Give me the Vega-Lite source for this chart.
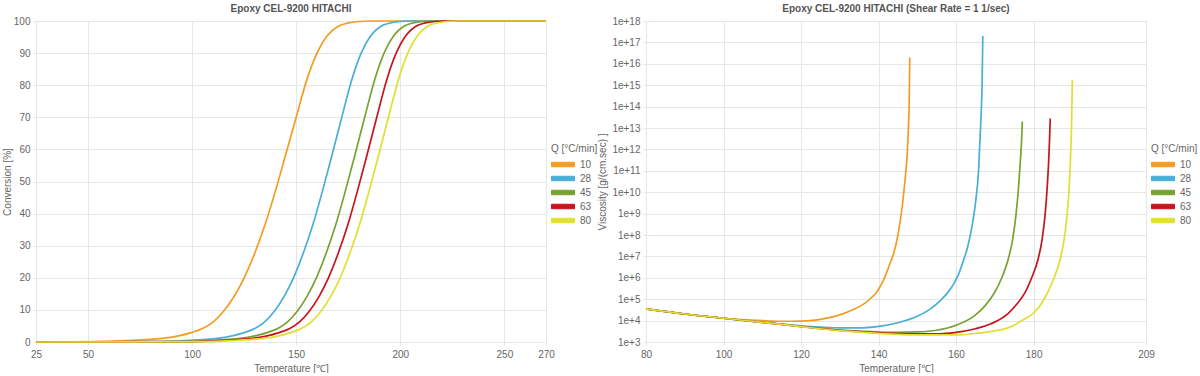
{
  "$schema": "https://vega.github.io/schema/vega-lite/v6.json",
  "padding": {"left": 2, "top": 4, "right": 0, "bottom": 0},
  "autosize": {"type": "pad"},
  "background": "white",
  "bounds": "flush",
  "spacing": 100,
  "resolve": {"scale": {"color": "independent"}},
  "config": {
    "font": "Liberation Sans",
    "view": {"stroke": null},
    "title": {"fontSize": 10, "fontWeight": "bold", "color": "#555555", "offset": 2, "anchor": "middle"},
    "axis": {
      "labelColor": "#666666", "labelFontSize": 10, "titleColor": "#666666", "titleFontSize": 10,
      "titleFontWeight": "normal", "gridColor": "#e6e6e6", "domain": false, "tickColor": "#e6e6e6",
      "tickSize": 3, "labelPadding": 3, "labelFlush": false
    },
    "legend": {"labelColor": "#666666", "labelFontSize": 10, "titleColor": "#666666", "titleFontSize": 10, "titleFontWeight": "normal"}
  },
  "datasets": {
    "conv": [
      {"Q": "10", "T": 25, "C": 0}, {"Q": "10", "T": 51.5, "C": 0.1}, {"Q": "10", "T": 71.5, "C": 0.5}, {"Q": "10", "T": 81.5, "C": 0.9}, {"Q": "10", "T": 91.5, "C": 1.7}, {"Q": "10", "T": 100, "C": 3.0}, {"Q": "10", "T": 105, "C": 4.2}, {"Q": "10", "T": 110, "C": 6.2}, {"Q": "10", "T": 115, "C": 9.5}, {"Q": "10", "T": 120, "C": 14}, {"Q": "10", "T": 125, "C": 20}, {"Q": "10", "T": 130, "C": 27.5}, {"Q": "10", "T": 135, "C": 36.5}, {"Q": "10", "T": 140, "C": 47}, {"Q": "10", "T": 145, "C": 58.5}, {"Q": "10", "T": 150, "C": 70}, {"Q": "10", "T": 155, "C": 81.5}, {"Q": "10", "T": 160, "C": 90}, {"Q": "10", "T": 165, "C": 95.5}, {"Q": "10", "T": 170, "C": 98.3}, {"Q": "10", "T": 175, "C": 99.4}, {"Q": "10", "T": 180, "C": 99.85}, {"Q": "10", "T": 185, "C": 100}, {"Q": "10", "T": 270, "C": 100},
      {"Q": "28", "T": 25, "C": 0}, {"Q": "28", "T": 80.3, "C": 0.1}, {"Q": "28", "T": 98.9, "C": 0.5}, {"Q": "28", "T": 108.2, "C": 0.9}, {"Q": "28", "T": 117.5, "C": 1.7}, {"Q": "28", "T": 125.4, "C": 3.0}, {"Q": "28", "T": 130.1, "C": 4.2}, {"Q": "28", "T": 134.7, "C": 6.2}, {"Q": "28", "T": 139.4, "C": 9.5}, {"Q": "28", "T": 144.0, "C": 14}, {"Q": "28", "T": 148.7, "C": 20}, {"Q": "28", "T": 153.3, "C": 27.5}, {"Q": "28", "T": 158.0, "C": 36.5}, {"Q": "28", "T": 162.6, "C": 47}, {"Q": "28", "T": 167.3, "C": 58.5}, {"Q": "28", "T": 171.9, "C": 70}, {"Q": "28", "T": 176.6, "C": 81.5}, {"Q": "28", "T": 181.2, "C": 90}, {"Q": "28", "T": 185.9, "C": 95.5}, {"Q": "28", "T": 190.5, "C": 98.3}, {"Q": "28", "T": 195.2, "C": 99.4}, {"Q": "28", "T": 199.8, "C": 99.85}, {"Q": "28", "T": 204.5, "C": 100}, {"Q": "28", "T": 270, "C": 100},
      {"Q": "45", "T": 25, "C": 0}, {"Q": "45", "T": 91.3, "C": 0.1}, {"Q": "45", "T": 109.9, "C": 0.5}, {"Q": "45", "T": 119.2, "C": 0.9}, {"Q": "45", "T": 128.5, "C": 1.7}, {"Q": "45", "T": 136.4, "C": 3.0}, {"Q": "45", "T": 141.1, "C": 4.2}, {"Q": "45", "T": 145.7, "C": 6.2}, {"Q": "45", "T": 150.4, "C": 9.5}, {"Q": "45", "T": 155.0, "C": 14}, {"Q": "45", "T": 159.7, "C": 20}, {"Q": "45", "T": 164.3, "C": 27.5}, {"Q": "45", "T": 169.0, "C": 36.5}, {"Q": "45", "T": 173.6, "C": 47}, {"Q": "45", "T": 178.3, "C": 58.5}, {"Q": "45", "T": 182.9, "C": 70}, {"Q": "45", "T": 187.6, "C": 81.5}, {"Q": "45", "T": 192.2, "C": 90}, {"Q": "45", "T": 196.9, "C": 95.5}, {"Q": "45", "T": 201.5, "C": 98.3}, {"Q": "45", "T": 206.2, "C": 99.4}, {"Q": "45", "T": 210.8, "C": 99.85}, {"Q": "45", "T": 215.5, "C": 100}, {"Q": "45", "T": 270, "C": 100},
      {"Q": "63", "T": 25, "C": 0}, {"Q": "63", "T": 97.1, "C": 0.1}, {"Q": "63", "T": 115.7, "C": 0.5}, {"Q": "63", "T": 125.0, "C": 0.9}, {"Q": "63", "T": 134.3, "C": 1.7}, {"Q": "63", "T": 142.2, "C": 3.0}, {"Q": "63", "T": 146.9, "C": 4.2}, {"Q": "63", "T": 151.5, "C": 6.2}, {"Q": "63", "T": 156.2, "C": 9.5}, {"Q": "63", "T": 160.8, "C": 14}, {"Q": "63", "T": 165.5, "C": 20}, {"Q": "63", "T": 170.1, "C": 27.5}, {"Q": "63", "T": 174.8, "C": 36.5}, {"Q": "63", "T": 179.4, "C": 47}, {"Q": "63", "T": 184.1, "C": 58.5}, {"Q": "63", "T": 188.7, "C": 70}, {"Q": "63", "T": 193.4, "C": 81.5}, {"Q": "63", "T": 198.0, "C": 90}, {"Q": "63", "T": 202.7, "C": 95.5}, {"Q": "63", "T": 207.3, "C": 98.3}, {"Q": "63", "T": 212.0, "C": 99.4}, {"Q": "63", "T": 216.6, "C": 99.85}, {"Q": "63", "T": 221.3, "C": 100}, {"Q": "63", "T": 270, "C": 100},
      {"Q": "80", "T": 25, "C": 0}, {"Q": "80", "T": 102.7, "C": 0.1}, {"Q": "80", "T": 121.3, "C": 0.5}, {"Q": "80", "T": 130.6, "C": 0.9}, {"Q": "80", "T": 139.9, "C": 1.7}, {"Q": "80", "T": 147.8, "C": 3.0}, {"Q": "80", "T": 152.5, "C": 4.2}, {"Q": "80", "T": 157.1, "C": 6.2}, {"Q": "80", "T": 161.8, "C": 9.5}, {"Q": "80", "T": 166.4, "C": 14}, {"Q": "80", "T": 171.1, "C": 20}, {"Q": "80", "T": 175.7, "C": 27.5}, {"Q": "80", "T": 180.4, "C": 36.5}, {"Q": "80", "T": 185.0, "C": 47}, {"Q": "80", "T": 189.7, "C": 58.5}, {"Q": "80", "T": 194.3, "C": 70}, {"Q": "80", "T": 199.0, "C": 81.5}, {"Q": "80", "T": 203.6, "C": 90}, {"Q": "80", "T": 208.3, "C": 95.5}, {"Q": "80", "T": 212.9, "C": 98.3}, {"Q": "80", "T": 217.6, "C": 99.4}, {"Q": "80", "T": 222.2, "C": 99.85}, {"Q": "80", "T": 226.9, "C": 100}, {"Q": "80", "T": 270, "C": 100}
    ],
    "visc": [
      {"Q": "10", "T": 80, "V": 35200}, {"Q": "10", "T": 90, "V": 20400}, {"Q": "10", "T": 100, "V": 12900}, {"Q": "10", "T": 110, "V": 10000}, {"Q": "10", "T": 115, "V": 9330}, {"Q": "10", "T": 120, "V": 9550}, {"Q": "10", "T": 125, "V": 11480}, {"Q": "10", "T": 130, "V": 18620}, {"Q": "10", "T": 133.5, "V": 33000}, {"Q": "10", "T": 136.5, "V": 66000}, {"Q": "10", "T": 138.2, "V": 120000}, {"Q": "10", "T": 139.4, "V": 200000}, {"Q": "10", "T": 140.4, "V": 380000}, {"Q": "10", "T": 141.3, "V": 794000}, {"Q": "10", "T": 142.2, "V": 2.0e6}, {"Q": "10", "T": 143.1, "V": 5.6e6}, {"Q": "10", "T": 143.9, "V": 1.38e7}, {"Q": "10", "T": 145, "V": 1e8}, {"Q": "10", "T": 146.1, "V": 2.09e9}, {"Q": "10", "T": 146.8, "V": 3.16e10}, {"Q": "10", "T": 147.4, "V": 6.61e11}, {"Q": "10", "T": 147.7, "V": 1e13}, {"Q": "10", "T": 147.9, "V": 1.41e14}, {"Q": "10", "T": 148.05, "V": 1.95e16},
      {"Q": "28", "T": 80, "V": 35200}, {"Q": "28", "T": 90, "V": 20400}, {"Q": "28", "T": 100, "V": 12900}, {"Q": "28", "T": 110, "V": 8320}, {"Q": "28", "T": 120, "V": 5750}, {"Q": "28", "T": 125, "V": 5010}, {"Q": "28", "T": 130, "V": 4570}, {"Q": "28", "T": 135, "V": 4570}, {"Q": "28", "T": 140, "V": 5370}, {"Q": "28", "T": 145, "V": 7940}, {"Q": "28", "T": 150, "V": 15850}, {"Q": "28", "T": 153.4, "V": 35480}, {"Q": "28", "T": 156, "V": 89130}, {"Q": "28", "T": 158, "V": 220000}, {"Q": "28", "T": 159.5, "V": 562300}, {"Q": "28", "T": 160.6, "V": 1.4e6}, {"Q": "28", "T": 161.5, "V": 3.98e6}, {"Q": "28", "T": 163, "V": 2.82e7}, {"Q": "28", "T": 164.2, "V": 3.16e8}, {"Q": "28", "T": 165.1, "V": 4.37e9}, {"Q": "28", "T": 165.8, "V": 1e11}, {"Q": "28", "T": 166.2, "V": 3.98e12}, {"Q": "28", "T": 166.5, "V": 6.31e13}, {"Q": "28", "T": 166.7, "V": 8.51e14}, {"Q": "28", "T": 166.9, "V": 2.0e17},
      {"Q": "45", "T": 80, "V": 35200}, {"Q": "45", "T": 90, "V": 20400}, {"Q": "45", "T": 100, "V": 12900}, {"Q": "45", "T": 110, "V": 8320}, {"Q": "45", "T": 120, "V": 5370}, {"Q": "45", "T": 130, "V": 3630}, {"Q": "45", "T": 140, "V": 2950}, {"Q": "45", "T": 145, "V": 2820}, {"Q": "45", "T": 150, "V": 2950}, {"Q": "45", "T": 155, "V": 3550}, {"Q": "45", "T": 160, "V": 6030}, {"Q": "45", "T": 164.7, "V": 16600}, {"Q": "45", "T": 167.5, "V": 50120}, {"Q": "45", "T": 169.9, "V": 199500}, {"Q": "45", "T": 171.8, "V": 1e6}, {"Q": "45", "T": 173.4, "V": 6.76e6}, {"Q": "45", "T": 174.6, "V": 6.31e7}, {"Q": "45", "T": 175.5, "V": 1.02e9}, {"Q": "45", "T": 176.1, "V": 1.58e10}, {"Q": "45", "T": 176.6, "V": 3.16e11}, {"Q": "45", "T": 176.9, "V": 2.51e12}, {"Q": "45", "T": 177.1, "V": 2.0e13},
      {"Q": "63", "T": 80, "V": 35200}, {"Q": "63", "T": 90, "V": 20400}, {"Q": "63", "T": 100, "V": 12900}, {"Q": "63", "T": 110, "V": 8320}, {"Q": "63", "T": 120, "V": 5250}, {"Q": "63", "T": 130, "V": 3470}, {"Q": "63", "T": 140, "V": 2690}, {"Q": "63", "T": 150, "V": 2400}, {"Q": "63", "T": 155, "V": 2400}, {"Q": "63", "T": 160, "V": 2820}, {"Q": "63", "T": 165, "V": 4170}, {"Q": "63", "T": 169, "V": 7080}, {"Q": "63", "T": 173.4, "V": 21380}, {"Q": "63", "T": 175.8, "V": 63100}, {"Q": "63", "T": 177.7, "V": 190500}, {"Q": "63", "T": 179.5, "V": 1e6}, {"Q": "63", "T": 181.1, "V": 6.76e6}, {"Q": "63", "T": 182.2, "V": 6.31e7}, {"Q": "63", "T": 183, "V": 1.02e9}, {"Q": "63", "T": 183.5, "V": 1.58e10}, {"Q": "63", "T": 183.9, "V": 3.16e11}, {"Q": "63", "T": 184.1, "V": 2.51e12}, {"Q": "63", "T": 184.3, "V": 2.8e13},
      {"Q": "80", "T": 80, "V": 35200}, {"Q": "80", "T": 90, "V": 20400}, {"Q": "80", "T": 100, "V": 12900}, {"Q": "80", "T": 110, "V": 8320}, {"Q": "80", "T": 120, "V": 5250}, {"Q": "80", "T": 130, "V": 3390}, {"Q": "80", "T": 140, "V": 2510}, {"Q": "80", "T": 150, "V": 2140}, {"Q": "80", "T": 160, "V": 2140}, {"Q": "80", "T": 165, "V": 2510}, {"Q": "80", "T": 170, "V": 3310}, {"Q": "80", "T": 173.4, "V": 4570}, {"Q": "80", "T": 177, "V": 10000}, {"Q": "80", "T": 180.3, "V": 25120}, {"Q": "80", "T": 182.2, "V": 70000}, {"Q": "80", "T": 183.7, "V": 220000}, {"Q": "80", "T": 185.3, "V": 1e6}, {"Q": "80", "T": 186.8, "V": 6.76e6}, {"Q": "80", "T": 187.8, "V": 5.01e7}, {"Q": "80", "T": 188.5, "V": 5.01e8}, {"Q": "80", "T": 189.1, "V": 1e10}, {"Q": "80", "T": 189.5, "V": 3.16e11}, {"Q": "80", "T": 189.8, "V": 1.58e13}, {"Q": "80", "T": 190.0, "V": 1.8e15}
    ]
  },
  "hconcat": [
    {
      "title": "Epoxy CEL-9200 HITACHI",
      "width": 510,
      "height": 321,
      "data": {"name": "conv"},
      "mark": {"type": "line", "strokeWidth": 1.7, "interpolate": "monotone"},
      "encoding": {
        "x": {"field": "T", "type": "quantitative", "scale": {"domain": [25, 270], "nice": false, "zero": false},
          "axis": {"title": "Temperature [℃]", "values": [25, 50, 100, 150, 200, 250, 270], "labelPadding": 4, "titlePadding": 4}},
        "y": {"field": "C", "type": "quantitative", "scale": {"domain": [0, 100], "nice": false},
          "axis": {"title": "Conversion [%]", "values": [0, 10, 20, 30, 40, 50, 60, 70, 80, 90, 100], "titlePadding": 1}},
        "color": {"field": "Q", "type": "nominal",
          "scale": {"domain": ["10", "28", "45", "63", "80"], "range": ["#f39c24", "#4aaed6", "#79a230", "#c8141e", "#e0e030"]},
          "legend": {"title": "Q [°C/min]", "orient": "none", "legendX": 515, "legendY": 123,
            "symbolType": "M-1,-0.45L3.6,-0.45L3.6,0.45L-1,0.45Z", "symbolSize": 100, "rowPadding": 3, "labelOffset": 18, "titlePadding": 5,
            "symbolStrokeColor": "#777777", "symbolStrokeWidth": 1,
            "encode": {"symbols": {"update": {
              "fill": [{"test": "datum.value == '10'", "value": "#f39c24"}, {"test": "datum.value == '28'", "value": "#4aaed6"}, {"test": "datum.value == '45'", "value": "#79a230"}, {"test": "datum.value == '63'", "value": "#c8141e"}, {"value": "#e0e030"}],
              "stroke": {"value": "#777777"}, "strokeWidth": {"value": 1}, "opacity": {"value": 1}, "fillOpacity": {"value": 1}}}}}
        }
      }
    },
    {
      "title": "Epoxy CEL-9200 HITACHI (Shear Rate = 1 1/sec)",
      "width": 500,
      "height": 321,
      "data": {"name": "visc"},
      "mark": {"type": "line", "strokeWidth": 1.7, "interpolate": "monotone"},
      "encoding": {
        "x": {"field": "T", "type": "quantitative", "scale": {"domain": [80, 209], "nice": false, "zero": false},
          "axis": {"title": "Temperature [℃]", "values": [80, 100, 120, 140, 160, 180, 209], "labelPadding": 4, "titlePadding": 4}},
        "y": {"field": "V", "type": "quantitative", "scale": {"type": "log", "domain": [1000, 1e18], "nice": false},
          "axis": {"title": "Viscosity [g/(cm.sec) ]", "values": [1e3, 1e4, 1e5, 1e6, 1e7, 1e8, 1e9, 1e10, 1e11, 1e12, 1e13, 1e14, 1e15, 1e16, 1e17, 1e18],
            "labelExpr": "'1e+' + round(log(datum.value) / LN10)", "titlePadding": 4}},
        "color": {"field": "Q", "type": "nominal",
          "scale": {"domain": ["10", "28", "45", "63", "80"], "range": ["#f39c24", "#4aaed6", "#79a230", "#c8141e", "#e0e030"]},
          "legend": {"title": "Q [°C/min]", "orient": "none", "legendX": 505, "legendY": 123,
            "symbolType": "M-1,-0.45L3.6,-0.45L3.6,0.45L-1,0.45Z", "symbolSize": 100, "rowPadding": 3, "labelOffset": 18, "titlePadding": 5,
            "symbolStrokeColor": "#777777", "symbolStrokeWidth": 1,
            "encode": {"symbols": {"update": {
              "fill": [{"test": "datum.value == '10'", "value": "#f39c24"}, {"test": "datum.value == '28'", "value": "#4aaed6"}, {"test": "datum.value == '45'", "value": "#79a230"}, {"test": "datum.value == '63'", "value": "#c8141e"}, {"value": "#e0e030"}],
              "stroke": {"value": "#777777"}, "strokeWidth": {"value": 1}, "opacity": {"value": 1}, "fillOpacity": {"value": 1}}}}}
        }
      }
    }
  ]
}
